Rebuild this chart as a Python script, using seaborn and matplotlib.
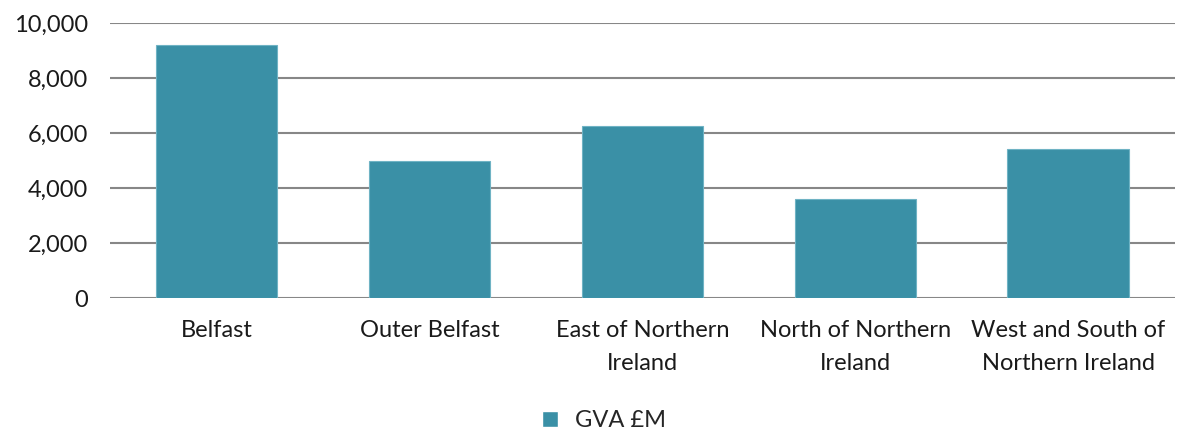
import pandas as pd
import matplotlib
matplotlib.use("Agg")
import matplotlib.pyplot as plt
import seaborn as sns
from matplotlib.ticker import FuncFormatter
from matplotlib.patches import Patch

# Data
regions = ["Belfast", "Outer Belfast", "East of Northern\nIreland",
           "North of Northern\nIreland", "West and South of\nNorthern Ireland"]
gva = [9200, 5000, 6250, 3600, 5420]
series_name = "GVA £M"
bar_color = "#3A90A6"

df = pd.DataFrame({"region": regions, "gva": gva})

sns.set_theme(style="white")
plt.rcParams["font.family"] = ["Lato", "DejaVu Sans"]

fig = plt.figure(figsize=(11.84, 4.34), dpi=100)
ax = fig.add_axes([0.093, 0.313, 0.899, 0.634])

sns.barplot(data=df, x="region", y="gva", color=bar_color, width=0.57,
            saturation=1, edgecolor="#6FB3C4", linewidth=0.8, ax=ax, zorder=3)

ax.set_ylim(0, 10000)
ax.set_yticks(range(0, 10001, 2000))
ax.yaxis.set_major_formatter(FuncFormatter(lambda v, p: f"{int(v):,}"))
ax.grid(axis="y", color="#878787", linewidth=1.5, zorder=0)
ax.set_axisbelow(True)
for s in ax.spines.values():
    s.set_visible(False)
ax.tick_params(axis="both", length=0, labelsize=17, colors="#1a1a1a")
ax.tick_params(axis="y", pad=16)
ax.tick_params(axis="x", pad=16)
for lbl in ax.get_xticklabels():
    lbl.set_linespacing(1.7)
ax.set_xlabel("")
ax.set_ylabel("")

handles = [Patch(facecolor=bar_color, label=series_name)]
fig.legend(handles=handles, loc="center", bbox_to_anchor=(0.51, 0.03),
           frameon=False, fontsize=17, handlelength=0.7, handleheight=0.7,
           handletextpad=0.7)

fig.savefig("out.png", dpi=100)
